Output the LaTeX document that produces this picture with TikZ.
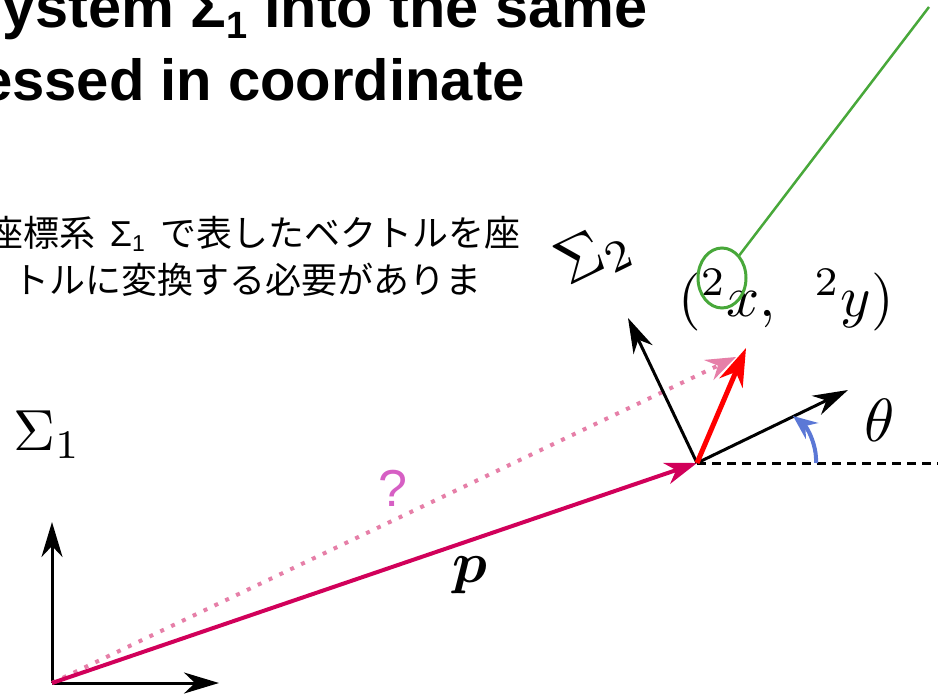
\documentclass[tikz,border=0pt]{standalone}
\usepackage{amsmath}
\usepackage{bm}
\usepackage{graphicx}
\usepackage{fontspec}
\newfontfamily\titlefont{Liberation Sans}
\newfontfamily\jpfont{Noto Sans CJK JP}
\usetikzlibrary{arrows.meta,shapes.geometric}
\definecolor{pcol}{HTML}{D1005A}
\definecolor{pinkcol}{HTML}{E67FA8}
\definecolor{qcol}{HTML}{D65FC4}
\definecolor{bluecol}{HTML}{5B78D6}
\definecolor{greencol}{HTML}{48A83A}
\newcommand{\hugemath}[1]{\scalebox{5.8}{$#1$}}
\tikzset{
  axisline/.style={line width=3pt,-{Stealth[length=35pt,width=21pt,inset=11pt]}},
  pvec/.style={line width=4pt,pcol,-{Stealth[length=32pt,width=22pt,inset=10pt]}},
  qvec/.style={line width=4pt,pinkcol,dash pattern=on 4pt off 8pt,-{Stealth[length=30pt,width=22pt,inset=10pt]}},
  rvec/.style={line width=5pt,red,-{Stealth[length=38pt,width=25pt,inset=12pt]}},
  anglearrow/.style={line width=4pt,bluecol,-{Stealth[length=24pt,width=20pt,inset=8pt]}},
  refline/.style={line width=3pt,dash pattern=on 9pt off 6pt},
  mathlbl/.style={inner sep=0pt},
  titletxt/.style={inner sep=0pt,font=\titlefont\bfseries\fontsize{59.5}{70}\selectfont},
  jptxt/.style={inner sep=0pt,font=\jpfont\fontsize{36}{44}\selectfont},
  mark2/.style={draw=greencol,line width=3pt,ellipse,minimum width=48pt,minimum height=60pt,inner sep=0pt}
}
\begin{document}
\begin{tikzpicture}[x=1pt,y=-1pt]
\useasboundingbox (0,0) rectangle (938,694);
% title
\node[titletxt,anchor=base east] (t1) at (648,27) {ystem Σ{\fontsize{38}{40}\selectfont\raisebox{-0.3em}{1}} into the same};
\node[titletxt,anchor=base east,font=\titlefont\bfseries\fontsize{58}{70}\selectfont] (t2) at (525,100) {essed in coordinate};
% japanese
\node[jptxt,anchor=base east] (j1) at (521,246) {座標系\hspace{14pt}{\titlefont Σ}{\titlefont\fontsize{23}{24}\selectfont\raisebox{-0.25em}{1}}\hspace{16pt}で表したベクトルを座};
\node[jptxt,anchor=base east] (j2) at (482,293) {トルに変換する必要がありま};
% coordinates
\coordinate (O1) at (52,683);
\coordinate (X1) at (219,683);
\coordinate (Y1) at (52,522);
\coordinate (O2) at (697,463);
\coordinate (X2) at (848,390);
\coordinate (Y2) at (628,318);
\coordinate (R) at (746,348);
\coordinate (Q) at (736,357);
\coordinate (D) at (938,463);
\coordinate (A0) at (816,463);
\coordinate (A1) at (793,416);
\coordinate (gt) at (929,7);
% reference line
\draw[refline] (O2) -- (D);
% frames
\draw[axisline] (O1) -- (Y1);
\draw[axisline] (O1) -- (X1);
\draw[qvec] (O1) -- (Q);
\draw[pvec] (O1) -- (O2);
\draw[axisline] (O2) -- (X2);
\draw[axisline] (O2) -- (Y2);
\draw[rvec] (O2) -- (R);
\draw[anglearrow] (A0) .. controls (817,445) and (807,427) .. (A1);
% labels
\node[mathlbl,anchor=base west] (s1) at (13,450) {\hugemath{\Sigma_1}};
\node[mathlbl,rotate=26] (s2) at (594,255) {\scalebox{6.3}{$\Sigma_2$}};
\node[mathlbl] (lab) at (786,300) {\hugemath{({}^2x,\ \,{}^2y)}};
\node[mathlbl] (th) at (880,420) {\scalebox{6.1}{$\theta$}};
\node[mathlbl] (pl) at (470,575) {\hugemath{\bm{p}}};
\node[inner sep=0pt,text=qcol,font=\titlefont\fontsize{52}{56}\selectfont] (ql) at (393,488) {?};
% green marker
\node[mark2] (gc) at (722,278) {};
\draw[greencol,line width=2.5pt] (gc) -- (gt);
\end{tikzpicture}
\end{document}
